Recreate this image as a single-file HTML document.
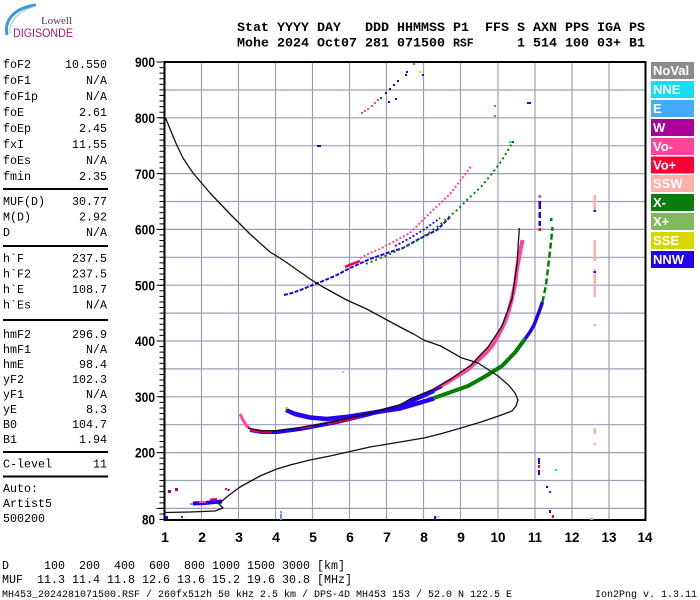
<!DOCTYPE html>
<html><head><meta charset="utf-8"><style>
html,body{margin:0;padding:0;background:#fff;width:700px;height:600px;overflow:hidden}
svg{display:block}
.m{font-family:"Liberation Mono",monospace;font-size:11.67px;fill:#000}
.h{font-family:"Liberation Mono",monospace;font-size:13.33px;font-weight:bold;fill:#000}
.ax{font-family:"Liberation Sans",sans-serif;font-size:14px;font-weight:bold;fill:#000}
.lg{font-family:"Liberation Sans",sans-serif;font-size:13px;font-weight:bold;fill:#fff}
.f{font-family:"Liberation Mono",monospace;font-size:10px;fill:#000}
</style></head><body>
<svg width="700" height="600" viewBox="0 0 700 600" xmlns="http://www.w3.org/2000/svg">
<rect width="700" height="600" fill="#fff"/>

<!-- Logo -->
<path d="M7,35 C4,20 14,8 36,5" fill="none" stroke="#3a9ad9" stroke-width="3"/>
<path d="M10,34 C9,22 17,11 36,6" fill="none" stroke="#8cc8ee" stroke-width="1"/>
<text x="41" y="24" font-family="Liberation Serif,serif" font-size="11" fill="#5a3050" textLength="31" lengthAdjust="spacingAndGlyphs">Lowell</text>
<text x="13" y="37" font-family="Liberation Sans,sans-serif" font-size="11.5" fill="#a0206a" textLength="60" lengthAdjust="spacingAndGlyphs">DIGISONDE</text>

<!-- Header -->
<g class="h">
<text x="237" y="31">Stat</text><text x="277" y="31">YYYY</text><text x="317" y="31">DAY</text><text x="365" y="31">DDD</text><text x="397" y="31">HHMMSS</text><text x="453" y="31">P1</text><text x="485" y="31">FFS</text><text x="517" y="31">S</text><text x="533" y="31">AXN</text><text x="565" y="31">PPS</text><text x="597" y="31">IGA</text><text x="629" y="31">PS</text>
<text x="237" y="46.5">Mohe</text><text x="277" y="46.5">2024</text><text x="317" y="46.5">Oct07</text><text x="365" y="46.5">281</text><text x="397" y="46.5">071500</text><text x="453" y="46.5" font-size="11.5">RSF</text><text x="517" y="46.5">1</text><text x="533" y="46.5">514</text><text x="565" y="46.5">100</text><text x="597" y="46.5">03+</text><text x="629" y="46.5">B1</text>
</g>

<!-- Left panel -->
<g class="m">
<text x="3" y="68">foF2</text><text x="107" y="68" text-anchor="end">10.550</text>
<text x="3" y="84">foF1</text><text x="107" y="84" text-anchor="end">N/A</text>
<text x="3" y="100">foF1p</text><text x="107" y="100" text-anchor="end">N/A</text>
<text x="3" y="116">foE</text><text x="107" y="116" text-anchor="end">2.61</text>
<text x="3" y="132">foEp</text><text x="107" y="132" text-anchor="end">2.45</text>
<text x="3" y="148">fxI</text><text x="107" y="148" text-anchor="end">11.55</text>
<text x="3" y="164">foEs</text><text x="107" y="164" text-anchor="end">N/A</text>
<text x="3" y="180">fmin</text><text x="107" y="180" text-anchor="end">2.35</text>
<text x="3" y="205">MUF(D)</text><text x="107" y="205" text-anchor="end">30.77</text>
<text x="3" y="220.5">M(D)</text><text x="107" y="220.5" text-anchor="end">2.92</text>
<text x="3" y="236">D</text><text x="107" y="236" text-anchor="end">N/A</text>
<text x="3" y="262">h`F</text><text x="107" y="262" text-anchor="end">237.5</text>
<text x="3" y="277.5">h`F2</text><text x="107" y="277.5" text-anchor="end">237.5</text>
<text x="3" y="293">h`E</text><text x="107" y="293" text-anchor="end">108.7</text>
<text x="3" y="308.5">h`Es</text><text x="107" y="308.5" text-anchor="end">N/A</text>
<text x="3" y="338">hmF2</text><text x="107" y="338" text-anchor="end">296.9</text>
<text x="3" y="353">hmF1</text><text x="107" y="353" text-anchor="end">N/A</text>
<text x="3" y="368">hmE</text><text x="107" y="368" text-anchor="end">98.4</text>
<text x="3" y="383">yF2</text><text x="107" y="383" text-anchor="end">102.3</text>
<text x="3" y="398">yF1</text><text x="107" y="398" text-anchor="end">N/A</text>
<text x="3" y="413">yE</text><text x="107" y="413" text-anchor="end">8.3</text>
<text x="3" y="428">B0</text><text x="107" y="428" text-anchor="end">104.7</text>
<text x="3" y="443">B1</text><text x="107" y="443" text-anchor="end">1.94</text>
<text x="3" y="467.5">C-level</text><text x="107" y="467.5" text-anchor="end">11</text>
<text x="3" y="492">Auto:</text>
<text x="3" y="507">Artist5</text>
<text x="3" y="522">500200</text>
</g>
<g stroke="#000" stroke-width="2">
<line x1="3" y1="189" x2="108" y2="189"/>
<line x1="3" y1="246" x2="108" y2="246"/>
<line x1="3" y1="320" x2="108" y2="320"/>
<line x1="3" y1="452" x2="108" y2="452"/>
<line x1="3" y1="476.5" x2="108" y2="476.5"/>
</g>

<!-- Grid -->
<g stroke="#9c9fb2" stroke-width="1.2">
<line x1="201.5" y1="62" x2="201.5" y2="520"/><line x1="238.5" y1="62" x2="238.5" y2="520"/><line x1="275.5" y1="62" x2="275.5" y2="520"/><line x1="312.5" y1="62" x2="312.5" y2="520"/><line x1="349.5" y1="62" x2="349.5" y2="520"/><line x1="386.5" y1="62" x2="386.5" y2="520"/><line x1="423.5" y1="62" x2="423.5" y2="520"/><line x1="460.5" y1="62" x2="460.5" y2="520"/><line x1="498" y1="62" x2="498" y2="520"/><line x1="535" y1="62" x2="535" y2="520"/><line x1="572" y1="62" x2="572" y2="520"/><line x1="609" y1="62" x2="609" y2="520"/>
<line x1="164" y1="90" x2="646" y2="90"/><line x1="164" y1="117.8" x2="646" y2="117.8"/><line x1="164" y1="145.7" x2="646" y2="145.7"/><line x1="164" y1="173.6" x2="646" y2="173.6"/><line x1="164" y1="201.5" x2="646" y2="201.5"/><line x1="164" y1="229.4" x2="646" y2="229.4"/><line x1="164" y1="257.3" x2="646" y2="257.3"/><line x1="164" y1="285.2" x2="646" y2="285.2"/><line x1="164" y1="313.1" x2="646" y2="313.1"/><line x1="164" y1="341" x2="646" y2="341"/><line x1="164" y1="368.9" x2="646" y2="368.9"/><line x1="164" y1="396.8" x2="646" y2="396.8"/><line x1="164" y1="424.7" x2="646" y2="424.7"/><line x1="164" y1="452.6" x2="646" y2="452.6"/><line x1="164" y1="480.5" x2="646" y2="480.5"/><line x1="164" y1="508.4" x2="646" y2="508.4"/>
</g>

<!-- Frame & ticks -->
<line x1="162" y1="61.5" x2="162" y2="521" stroke="#000" stroke-width="5" stroke-dasharray="1 4.58"/>
<line x1="160.5" y1="61.5" x2="160.5" y2="521" stroke="#000" stroke-width="8" stroke-dasharray="1 54.8"/>
<rect x="164.5" y="62" width="481" height="458" fill="none" stroke="#000" stroke-width="2"/>

<!-- Axis labels -->
<g class="ax" text-anchor="end">
<text x="155" y="67" textLength="20" lengthAdjust="spacingAndGlyphs">900</text>
<text x="155" y="123" textLength="20" lengthAdjust="spacingAndGlyphs">800</text>
<text x="155" y="179" textLength="20" lengthAdjust="spacingAndGlyphs">700</text>
<text x="155" y="234.5" textLength="20" lengthAdjust="spacingAndGlyphs">600</text>
<text x="155" y="290.5" textLength="20" lengthAdjust="spacingAndGlyphs">500</text>
<text x="155" y="346" textLength="20" lengthAdjust="spacingAndGlyphs">400</text>
<text x="155" y="402" textLength="20" lengthAdjust="spacingAndGlyphs">300</text>
<text x="155" y="457.5" textLength="20" lengthAdjust="spacingAndGlyphs">200</text>
<text x="155" y="524.5" textLength="13" lengthAdjust="spacingAndGlyphs">80</text>
</g>
<g class="ax" text-anchor="middle">
<text x="165" y="542">1</text><text x="202" y="542">2</text><text x="239" y="542">3</text><text x="276" y="542">4</text><text x="313" y="542">5</text><text x="350" y="542">6</text><text x="387" y="542">7</text><text x="424" y="542">8</text><text x="461" y="542">9</text>
<text x="498" y="542" textLength="15" lengthAdjust="spacingAndGlyphs">10</text><text x="535" y="542" textLength="14" lengthAdjust="spacingAndGlyphs">11</text><text x="572" y="542" textLength="15" lengthAdjust="spacingAndGlyphs">12</text><text x="609" y="542" textLength="15" lengthAdjust="spacingAndGlyphs">13</text><text x="645" y="542" textLength="15" lengthAdjust="spacingAndGlyphs">14</text>
</g>

<!-- Traces: first hop O -->
<g fill="none" stroke-linejoin="round">
<polyline points="240,414 243,420 246,425 250,429" stroke="#ff4499" stroke-width="3"/>
<polyline points="250,430 262,432 277,432 300,429 337,422 370,414 400,406 417,398.5 434,391" stroke="#2200ee" stroke-width="4"/>
<polyline points="250,430 262,431.5 272,431.5" stroke="#ff0033" stroke-width="2.5"/>
<polyline points="328,423.5 345,420 362,416" stroke="#ff0033" stroke-width="2.5"/>
<polyline points="300,428 312,426.5" stroke="#ff0033" stroke-width="2"/>
<polyline points="434,390 451,380 468,369.5 485,354 492,346 498,336 504,324 508.5,312 512,298 515,285 517,268 519,258 520.5,250 522.5,240" stroke="#ff4499" stroke-width="4"/>
<polyline points="434,391 442,387" stroke="#2200ee" stroke-width="2"/>
<!-- first hop X -->
<polyline points="286,410 295,414 310,417.5 327,419 350,416.5 383,411 400,408.5 417,403.5 434,398.5" stroke="#2200ee" stroke-width="4.5"/>
<polyline points="434,398 451,392 468,386 485,376.5 502,366 515,352.5 525,339" stroke="#008000" stroke-width="4"/>
<polyline points="525,339 530,332 534,325 539,312 542.5,302" stroke="#2200ee" stroke-width="3.5"/>
<polyline points="542.5,302 546,285 548,268 550,251 551.5,237 552.5,227" stroke="#008000" stroke-width="2.5" stroke-dasharray="6 3"/>
<!-- second hop -->
<polyline points="284,295 292,293 303,289 315,284 323,281 337,275 350,268 370,259 390,252 403,248 417,240 437,230 450,217" stroke="#2200ee" stroke-width="2" stroke-dasharray="4 1.5"/>
<polyline points="345,267 352,264 360,261" stroke="#ff0033" stroke-width="2.5"/>
<polyline points="360,258 370,253 380,249 397,240 410,233 420,223 433,210 450,194 463,177 472,165" stroke="#ff4499" stroke-width="2" stroke-dasharray="2 2"/>
<polyline points="366,264 390,254 405,247 420,239 437,227 457,210 470,197 480,188 490,176 500,163 507,152 512,143" stroke="#008000" stroke-width="2" stroke-dasharray="2 3"/>
<polyline points="395,246 410,238 425,229 440,218" stroke="#2200ee" stroke-width="1.8" stroke-dasharray="2 2"/>
<!-- E layer -->
<polyline points="193,503.5 205,503 215,502 222,501.5" stroke="#2200ee" stroke-width="4"/>
<polyline points="199,502 206,502" stroke="#ff4499" stroke-width="2"/>
<polyline points="210,499.5 217,499" stroke="#ff0033" stroke-width="2"/>
<!-- black curves -->
<polyline points="164.5,117 165.7,118.3 171.7,133 176.7,145 183,158 193,173 210,193 230,214 250,234 270,252 283,260 310,279 323,287 346.7,300 366.7,309 400,327 413.6,334 423.7,340 440.7,346 461,357.6 478,363 498,376 508.5,385 515,393 518,400 516,406 512,411 498.6,416 481,422 461,428 440,434 423.7,438 400,442 370,447 350,451.5 330,456 310,460 290,465 276.7,469 260,476 240,487 228,496 222,501 219,504 223,508 215,511 190,512 165,512.5" stroke="#111" stroke-width="1.3"/>
<polyline points="248,428 262,431 277,430.5 300,427.5 337,421 370,413 400,405 410,399 434,389 451,379 471,365 488,347 502,326 512,299 517,264 519.3,228" stroke="#111" stroke-width="1.3"/>
</g>

<!-- scattered dots -->
<g>
<rect x="285" y="407" width="3" height="2" fill="#d8d800"/>
<rect x="361" y="112" width="2" height="2" fill="#ff4499"/><rect x="364" y="110" width="2" height="2" fill="#ff4499"/><rect x="367" y="108" width="2" height="2" fill="#ff4499"/><rect x="371" y="105" width="2" height="2" fill="#ff4499"/><rect x="374" y="102" width="2" height="2" fill="#ff4499"/><rect x="377" y="99" width="2" height="2" fill="#ff4499"/>
<rect x="385" y="92" width="2" height="2" fill="#2200ee"/><rect x="389" y="88" width="2" height="2" fill="#2200ee"/><rect x="393" y="84" width="2" height="2" fill="#2200ee"/><rect x="397" y="80" width="2" height="2" fill="#2200ee"/><rect x="405" y="74" width="2" height="2" fill="#2200ee"/><rect x="406" y="71" width="2" height="2" fill="#2200ee"/><rect x="413" y="63" width="2" height="2" fill="#ff4499"/>
<rect x="388" y="101" width="2" height="2" fill="#2200ee"/><rect x="395" y="98" width="2" height="2" fill="#2200ee"/><rect x="380" y="97" width="2" height="2" fill="#008000"/><rect x="419" y="71" width="2" height="2" fill="#d8d800"/><rect x="422" y="74" width="2" height="2" fill="#2200ee"/>
<rect x="317" y="145" width="4" height="2" fill="#2200ee"/>
<rect x="494" y="105" width="2" height="2" fill="#ff4499"/><rect x="494" y="115" width="2" height="2" fill="#ff4499"/>
<rect x="527" y="102" width="4" height="2" fill="#2200ee"/>
<rect x="509" y="141" width="3" height="2" fill="#11ddf5"/><rect x="512" y="141" width="2" height="2" fill="#008000"/>
<rect x="538.5" y="195" width="2.5" height="3" fill="#ff4499"/><rect x="538.5" y="201" width="2.5" height="8" fill="#2200ee"/><rect x="538.5" y="212" width="2.5" height="6" fill="#2200ee"/><rect x="538.5" y="221" width="2.5" height="5" fill="#2200ee"/><rect x="538.5" y="228" width="2.5" height="3" fill="#ff0033"/>
<rect x="550" y="218" width="2.5" height="3" fill="#008000"/>
<rect x="593.5" y="195" width="2.5" height="15" fill="#ffb0a8"/><rect x="593.5" y="240" width="2.5" height="21" fill="#ffb0a8"/><rect x="593.5" y="269" width="2.5" height="28" fill="#ffb0a8"/><rect x="593.5" y="324" width="2.5" height="2.5" fill="#ffb0a8"/><rect x="593.5" y="428" width="2.5" height="6" fill="#ffb0a8"/><rect x="593.5" y="443" width="2.5" height="2" fill="#ffb0a8"/>
<rect x="593.5" y="210" width="2.5" height="2" fill="#2200ee"/><rect x="593.5" y="271" width="2.5" height="2" fill="#2200ee"/>
<rect x="342" y="371" width="2" height="2" fill="#ffb0a8"/>
<rect x="168" y="490" width="3" height="3" fill="#aa0099"/><rect x="175" y="488" width="3" height="3" fill="#aa0099"/><rect x="181" y="516" width="2" height="2" fill="#aa0099"/><rect x="165" y="516" width="3" height="3" fill="#2200ee"/>
<rect x="225" y="488" width="2" height="2" fill="#ff0033"/><rect x="227.5" y="489" width="2" height="2" fill="#2200ee"/><rect x="190" y="503" width="3" height="2" fill="#44aaff"/>
<rect x="280" y="511" width="2" height="2" fill="#44aaff"/><rect x="280" y="514" width="2" height="2" fill="#ff4499"/><rect x="280" y="516" width="2" height="4" fill="#44aaff"/>
<rect x="434" y="516" width="2" height="4" fill="#2200ee"/><rect x="437" y="516" width="2" height="2" fill="#ffb0a8"/>
<rect x="538" y="458" width="2" height="6" fill="#2200ee"/><rect x="538" y="465" width="2" height="3" fill="#ff0033"/><rect x="538" y="470" width="2" height="5" fill="#2200ee"/><rect x="546" y="486" width="2" height="2" fill="#2200ee"/><rect x="549" y="491" width="2" height="2" fill="#aa0099"/><rect x="555" y="469" width="2" height="2" fill="#11ddf5"/>
<rect x="549" y="510" width="2" height="3" fill="#2200ee"/><rect x="552" y="515" width="2" height="3" fill="#ff0033"/><rect x="590" y="518" width="3" height="2" fill="#11ddf5"/>
</g>

<!-- Legend -->
<rect x="651" y="62" width="43" height="17" fill="#8c8c8c"/><text class="lg" x="653" y="75" fill="#eee">NoVal</text>
<rect x="651" y="81" width="43" height="17" fill="#11ddf5"/><text class="lg" x="653" y="94">NNE</text>
<rect x="651" y="100" width="43" height="17" fill="#44aaff"/><text class="lg" x="653" y="113">E</text>
<rect x="651" y="119" width="43" height="17" fill="#aa0099"/><text class="lg" x="653" y="132">W</text>
<rect x="651" y="138" width="43" height="17" fill="#ff4499"/><text class="lg" x="653" y="151">Vo-</text>
<rect x="651" y="156.5" width="43" height="17" fill="#ff0033"/><text class="lg" x="653" y="169.5">Vo+</text>
<rect x="651" y="175" width="43" height="17" fill="#ffb0a8"/><text class="lg" x="653" y="188">SSW</text>
<rect x="651" y="194" width="43" height="17" fill="#0a7d0a"/><text class="lg" x="653" y="207">X-</text>
<rect x="651" y="213" width="43" height="17" fill="#80b860"/><text class="lg" x="653" y="226">X+</text>
<rect x="651" y="232" width="43" height="17" fill="#d8d800"/><text class="lg" x="653" y="245">SSE</text>
<rect x="651" y="251" width="43" height="17" fill="#2200ee"/><text class="lg" x="653" y="264">NNW</text>

<!-- Bottom text -->
<g class="m">
<text x="2" y="569">D</text><text x="44" y="569">100</text><text x="79" y="569">200</text><text x="114" y="569">400</text><text x="149" y="569">600</text><text x="184" y="569">800</text><text x="212" y="569">1000</text><text x="247" y="569">1500</text><text x="282" y="569">3000</text><text x="317" y="569">[km]</text>
<text x="2" y="583">MUF</text><text x="37" y="583">11.3</text><text x="72" y="583">11.4</text><text x="107" y="583">11.8</text><text x="142" y="583">12.6</text><text x="177" y="583">13.6</text><text x="212" y="583">15.2</text><text x="247" y="583">19.6</text><text x="282" y="583">30.8</text><text x="317" y="583">[MHz]</text>
</g>
<text class="f" x="2" y="597" textLength="510" lengthAdjust="spacingAndGlyphs">MH453_2024281071500.RSF / 260fx512h 50 kHz 2.5 km / DPS-4D MH453 153 / 52.0 N 122.5 E</text>
<text class="f" x="697" y="597" text-anchor="end">Ion2Png v. 1.3.11</text>
</svg>
</body></html>
